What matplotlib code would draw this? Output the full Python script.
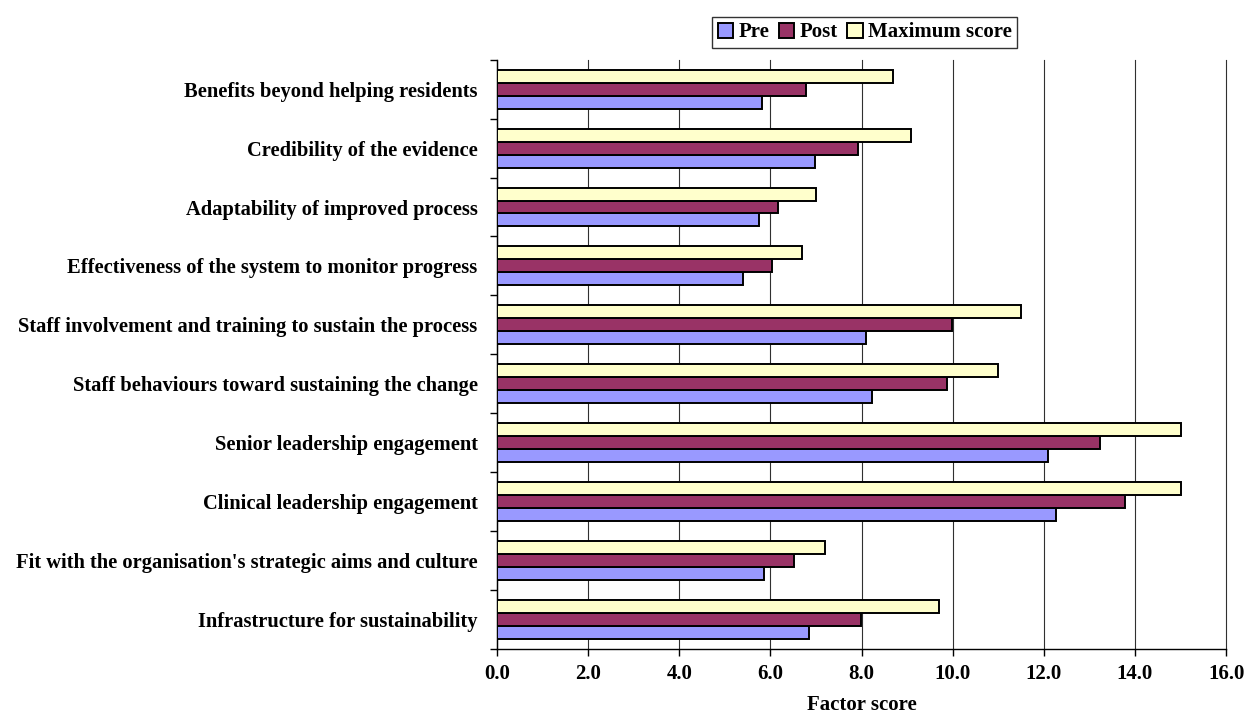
import numpy as np
import matplotlib.pyplot as plt

plt.rcParams['font.family'] = ['Liberation Serif', 'DejaVu Serif']
plt.rcParams['font.weight'] = 'bold'

# factors, listed bottom to top
factors = [
    "Infrastructure for sustainability",
    "Fit with the organisation's strategic aims and culture",
    "Clinical leadership engagement",
    "Senior leadership engagement",
    "Staff behaviours toward sustaining the change",
    "Staff involvement and training to sustain the process",
    "Effectiveness of the system to monitor progress",
    "Adaptability of improved process",
    "Credibility of the evidence",
    "Benefits beyond helping residents",
]
pre = [6.84, 5.86, 12.26, 12.10, 8.23, 8.09, 5.40, 5.74, 6.98, 5.82]
post = [7.99, 6.51, 13.79, 13.24, 9.87, 9.98, 6.04, 6.16, 7.93, 6.78]
max_score = [9.69, 7.19, 15.0, 15.0, 10.99, 11.50, 6.70, 7.00, 9.09, 8.69]

fig = plt.figure(figsize=(12.46, 7.2), dpi=100)
ax = fig.add_axes([0.399, 0.099, 0.585, 0.818])

y = np.arange(len(factors))
h = 0.22
kw = dict(height=h, edgecolor='black', linewidth=1.4, zorder=3)
b1 = ax.barh(y - h, pre, color='#9999FF', label='Pre', **kw)
b2 = ax.barh(y, post, color='#993366', label='Post', **kw)
b3 = ax.barh(y + h, max_score, color='#FFFFCC', label='Maximum score', **kw)

ax.set_xlim(0, 16)
ax.set_ylim(-0.5, len(factors) - 0.5)
xt = np.arange(0, 16.1, 2)
ax.set_xticks(xt)
ax.set_xticklabels([f'{v:.1f}' for v in xt], fontsize=15, fontweight='bold')
ax.set_yticks(y)
ax.set_yticklabels(factors, fontsize=14.8, fontweight='bold')
ax.set_yticks(np.arange(-0.5, len(factors), 1), minor=True)
ax.tick_params(axis='y', which='major', length=0, pad=14)
ax.tick_params(axis='y', which='minor', length=5, width=1, direction='out')
ax.tick_params(axis='x', length=5, width=1, direction='out', pad=6)
ax.xaxis.grid(True, color='#303030', linewidth=0.8, zorder=0)
for gl in ax.get_xgridlines():
    gl.set_clip_on(False)
ax.set_axisbelow(True)

for s in ['top', 'right']:
    ax.spines[s].set_visible(False)
ax.spines['left'].set_linewidth(1)
ax.spines['bottom'].set_linewidth(1)

ax.set_xlabel('Factor score', fontsize=15, fontweight='bold', labelpad=8)

leg = fig.legend(handles=[b1, b2, b3], loc='center', bbox_to_anchor=(0.694, 0.955),
                 ncol=3, frameon=True, fancybox=False, edgecolor='black',
                 handlelength=0.75, handleheight=0.75, handletextpad=0.25,
                 columnspacing=0.45, borderpad=0.25, borderaxespad=0,
                 prop={'size': 15, 'weight': 'bold'})
leg.get_frame().set_linewidth(1)

fig.savefig('out.png', dpi=100)
